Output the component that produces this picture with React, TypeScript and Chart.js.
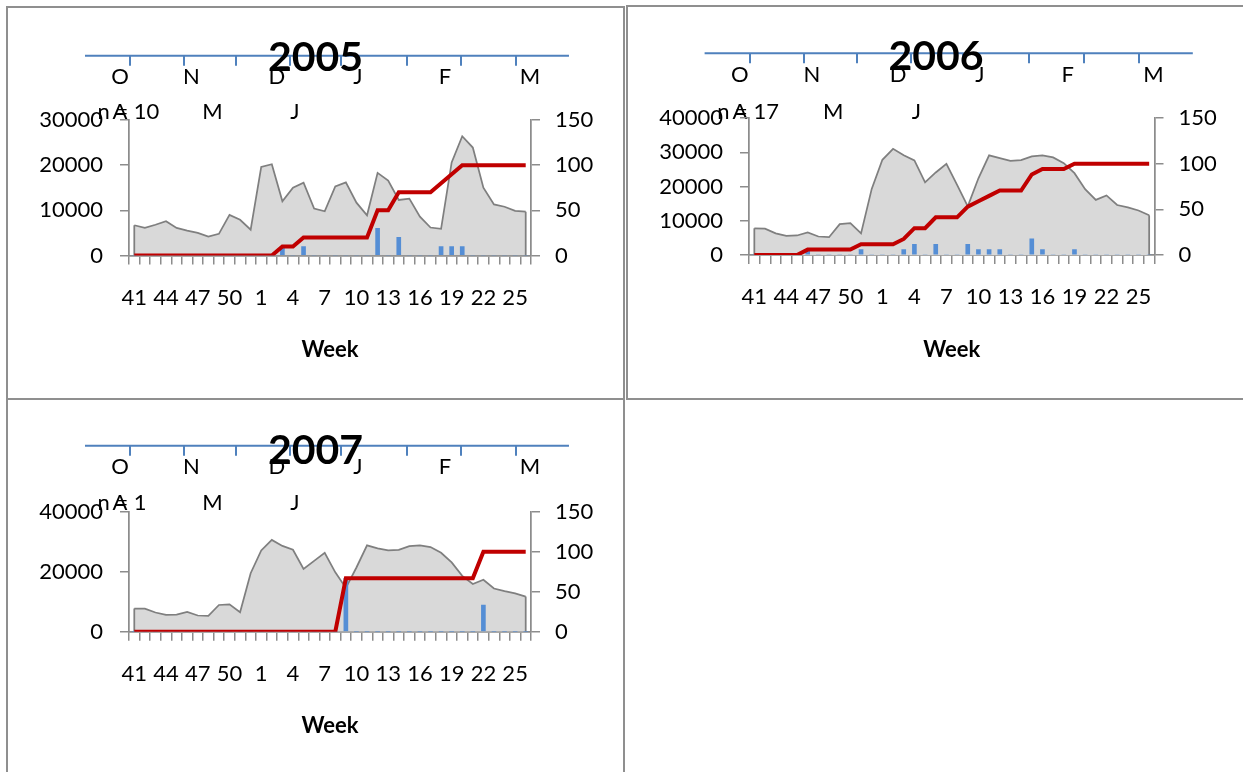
import React, { useEffect, useRef } from 'react';
import { Chart, registerables } from 'chart.js';

Chart.register(...registerables);

// ---------- data ----------
const weeks = ['41', '42', '43', '44', '45', '46', '47', '48', '49', '50', '51', '52',
  '1', '2', '3', '4', '5', '6', '7', '8', '9', '10', '11', '12', '13', '14', '15', '16',
  '17', '18', '19', '20', '21', '22', '23', '24', '25', '26'];

const visits2005 = [6700, 6100, 6800, 7600, 6100, 5500, 5000, 4200, 4800, 9000, 7900, 5700,
  19600, 20200, 12000, 15000, 16100, 10400, 9800, 15300, 16200, 11700, 8900, 18300, 16600,
  12300, 12600, 8600, 6200, 5900, 20600, 26400, 23900, 15000, 11300, 10800, 9900, 9700];
const weekly2005 = [0, 0, 0, 0, 0, 0, 0, 0, 0, 0, 0, 0, 0, 0, 10, 0, 10, 0, 0, 0, 0, 0, 0,
  30, 0, 20, 0, 0, 0, 10, 10, 10, 0, 0, 0, 0, 0, 0];
const cumulative2005 = [0, 0, 0, 0, 0, 0, 0, 0, 0, 0, 0, 0, 0, 0, 10, 10, 20, 20, 20, 20, 20,
  20, 20, 50, 50, 70, 70, 70, 70, 80, 90, 100, 100, 100, 100, 100, 100, 100];

const visits2006 = [7800, 7700, 6300, 5600, 5700, 6600, 5400, 5200, 9000, 9300, 6300, 19300,
  27800, 31000, 29100, 27600, 21200, 24100, 26600, 20500, 14200, 22400, 29100, 28300, 27500,
  27700, 28800, 29100, 28500, 26800, 23900, 19200, 16100, 17400, 14600, 13900, 13000, 11600];
const weekly2006 = [0, 0, 0, 0, 0, 5.9, 0, 0, 0, 0, 5.9, 0, 0, 0, 5.9, 11.8, 0, 11.8, 0, 0,
  11.8, 5.9, 5.9, 5.9, 0, 0, 17.6, 5.9, 0, 0, 5.9, 0, 0, 0, 0, 0, 0, 0];
const cumulative2006 = [0, 0, 0, 0, 0, 5.9, 5.9, 5.9, 5.9, 5.9, 11.8, 11.8, 11.8, 11.8, 17.6,
  29.4, 29.4, 41.2, 41.2, 41.2, 52.9, 58.8, 64.7, 70.6, 70.6, 70.6, 88.2, 94.1, 94.1, 94.1,
  100, 100, 100, 100, 100, 100, 100, 100];

const visits2007 = [7700, 7700, 6400, 5600, 5700, 6600, 5400, 5300, 8900, 9100, 6500, 19500,
  27100, 30600, 28600, 27300, 20900, 23600, 26300, 19800, 14600, 21400, 28800, 27800, 27100,
  27300, 28500, 28800, 28200, 26300, 23100, 18600, 15900, 17300, 14400, 13500, 12800, 11700];
const weekly2007 = [0, 0, 0, 0, 0, 0, 0, 0, 0, 0, 0, 0, 0, 0, 0, 0, 0, 0, 0, 0, 66.7, 0, 0, 0,
  0, 0, 0, 0, 0, 0, 0, 0, 0, 33.3, 0, 0, 0, 0];
const cumulative2007 = [0, 0, 0, 0, 0, 0, 0, 0, 0, 0, 0, 0, 0, 0, 0, 0, 0, 0, 0, 0, 66.7, 66.7,
  66.7, 66.7, 66.7, 66.7, 66.7, 66.7, 66.7, 66.7, 66.7, 66.7, 66.7, 100, 100, 100, 100, 100];

// month axis above each chart (positions in week-index units)
const monthRow1 = ['O', 'N', 'D', 'J', 'F', 'M'];
const monthRow1At = [-1.35, 5.4, 13.47, 21.14, 29.37, 37.4];
const monthRow2 = ['A', 'M', 'J'];
const monthRow2At = [-1.35, 7.4, 15.19];
const monthTickAt = [-0.36, 4.69, 9.66, 14.72, 19.54, 25.78, 30.88, 36.08];
const monthAxisSpan = [-4.66, 41.09];
const nLabelAt = -3.48;

const FONT = 'Lato';
const AXIS_GRAY = '#8c8c8c';

type Layout = {
  W: number; H: number; left: number; right: number; top: number; bottom: number;
  axisY: number; row1Y: number; row2Y: number; titleY: number; weekY: number;
};

type PanelProps = {
  title: string; nText: string; visits: number[]; weekly: number[]; cumulative: number[];
  leftMax: number; leftStep: number; layout: Layout;
  box: { left: number; top: number; width: number; height: number };
};

function Panel(props: PanelProps) {
  const ref = useRef<HTMLCanvasElement>(null);
  useEffect(() => {
    const L = props.layout;
    const monthAxis = {
      id: 'monthAxis',
      beforeDraw(chart: any) {
        const x = chart.scales.x;
        const ctx = chart.ctx;
        ctx.save();
        ctx.strokeStyle = '#4f81bd';
        ctx.lineWidth = 2;
        ctx.beginPath();
        ctx.moveTo(x.getPixelForValue(monthAxisSpan[0]), L.axisY);
        ctx.lineTo(x.getPixelForValue(monthAxisSpan[1]), L.axisY);
        ctx.stroke();
        ctx.beginPath();
        monthTickAt.forEach((p) => {
          const px = Math.round(x.getPixelForValue(p));
          ctx.moveTo(px, L.axisY);
          ctx.lineTo(px, L.axisY + 10);
        });
        ctx.stroke();
        ctx.fillStyle = '#000';
        ctx.font = `22px ${FONT}`;
        ctx.textBaseline = 'middle';
        ctx.textAlign = 'left';
        ctx.fillText(props.nText, x.getPixelForValue(nLabelAt), L.row2Y);
        ctx.textAlign = 'center';
        monthRow1.forEach((m, i) => ctx.fillText(m, x.getPixelForValue(monthRow1At[i]), L.row1Y));
        monthRow2.forEach((m, i) => ctx.fillText(m, x.getPixelForValue(monthRow2At[i]), L.row2Y));
        ctx.restore();
      },
    };
    const areaEdges = {
      id: 'areaEdges',
      afterDatasetDraw(chart: any, args: any) {
        if (args.index !== 0) return;
        const pts = args.meta.data;
        if (!pts.length) return;
        const base = chart.scales.y.getPixelForValue(0);
        const ctx = chart.ctx;
        ctx.save();
        ctx.strokeStyle = '#7f7f7f';
        ctx.lineWidth = 1.75;
        ctx.beginPath();
        ctx.moveTo(pts[0].x, pts[0].y);
        ctx.lineTo(pts[0].x, base);
        const last = pts[pts.length - 1];
        ctx.moveTo(last.x, last.y);
        ctx.lineTo(last.x, base);
        ctx.stroke();
        ctx.restore();
      },
    };
    const tickFont = { family: FONT, size: 22 };
    const chart = new Chart(ref.current as HTMLCanvasElement, {
      type: 'bar',
      data: {
        labels: weeks,
        datasets: [
          {
            type: 'line', label: 'Visits', data: props.visits, yAxisID: 'y',
            borderColor: '#7f7f7f', borderWidth: 1.75, backgroundColor: '#d9d9d9',
            fill: 'origin', pointRadius: 0, tension: 0, order: 2,
          } as any,
          {
            type: 'bar', label: 'Cases %', data: props.weekly, yAxisID: 'y2',
            backgroundColor: '#558ed5', barThickness: 4, order: 1,
          } as any,
          {
            type: 'line', label: 'Cumulative %', data: props.cumulative, yAxisID: 'y2',
            borderColor: '#c00000', borderWidth: 4, pointRadius: 0, fill: false,
            tension: 0, order: 0,
          } as any,
        ],
      },
      options: {
        responsive: false,
        animation: false,
        devicePixelRatio: 1,
        layout: { padding: 0 },
        plugins: {
          legend: { display: false },
          tooltip: { enabled: false },
          title: {
            display: true, text: props.title, color: '#000',
            font: { family: FONT, size: 41, weight: 'bold', lineHeight: 1.2 },
            padding: { top: L.titleY - 24.6, bottom: L.top - L.titleY - 24.6 },
          },
        },
        scales: {
          x: {
            type: 'category',
            offset: true,
            grid: {
              display: true, offset: true, drawOnChartArea: false, drawTicks: true,
              tickLength: 9, color: AXIS_GRAY, lineWidth: 1.5,
            },
            border: { display: true, color: AXIS_GRAY, width: 1.75 },
            ticks: {
              autoSkip: false, maxRotation: 0, minRotation: 0, padding: 20, color: '#000',
              font: tickFont,
              callback: (_v: any, i: number) => (i % 3 === 0 ? weeks[i] : ''),
            },
            title: {
              display: true, text: 'Week', color: '#000',
              font: { family: FONT, size: 22, weight: 'bold', lineHeight: 1.2 },
              padding: { top: 0, bottom: L.H - L.weekY - 13.2 },
            },
            afterFit: (s: any) => { s.height = L.H - L.bottom; },
          },
          y: {
            position: 'left', min: 0, max: props.leftMax,
            grid: { drawOnChartArea: false, tickLength: 9, color: AXIS_GRAY, lineWidth: 1.5 },
            border: { display: true, color: AXIS_GRAY, width: 1.75 },
            ticks: {
              stepSize: props.leftStep, padding: 17, color: '#000', font: tickFont,
              callback: (v: any) => String(v),
            },
            afterFit: (s: any) => { s.width = L.left; },
          },
          y2: {
            position: 'right', min: 0, max: 150,
            grid: { drawOnChartArea: false, tickLength: 9, color: AXIS_GRAY, lineWidth: 1.5 },
            border: { display: true, color: AXIS_GRAY, width: 1.75 },
            ticks: {
              stepSize: 50, padding: 15, color: '#000', font: tickFont,
              callback: (v: any) => String(v),
            },
            afterFit: (s: any) => { s.width = L.W - L.right; },
          },
        },
      } as any,
      plugins: [monthAxis, areaEdges],
    });
    return () => chart.destroy();
  }, []);
  const b = props.box;
  return (
    <div
      style={{
        position: 'absolute', left: b.left, top: b.top, width: b.width, height: b.height,
        border: '2px solid #8f8f8f', boxSizing: 'border-box', background: '#fff',
      }}
    >
      <canvas
        ref={ref}
        width={props.layout.W}
        height={props.layout.H}
        style={{ display: 'block', width: props.layout.W, height: props.layout.H }}
      />
    </div>
  );
}

export default function App() {
  return (
    <div
      style={{
        position: 'fixed', left: 0, top: 0, width: 1243, height: 772, overflow: 'hidden',
        background: '#fff',
      }}
    >
      <Panel
        title="2005" nText="n = 10" visits={visits2005} weekly={weekly2005}
        cumulative={cumulative2005} leftMax={30000} leftStep={10000}
        box={{ left: 6, top: 6, width: 619, height: 394 }}
        layout={{ W: 615, H: 390, left: 121, right: 523, top: 112, bottom: 247.5,
          axisY: 47.7, row1Y: 68.7, row2Y: 103.7, titleY: 50, weekY: 342 }}
      />
      <Panel
        title="2006" nText="n = 17" visits={visits2006} weekly={weekly2006}
        cumulative={cumulative2006} leftMax={40000} leftStep={10000}
        box={{ left: 626, top: 5, width: 620, height: 395 }}
        layout={{ W: 616, H: 391, left: 121, right: 526.5, top: 111, bottom: 248,
          axisY: 46.3, row1Y: 68, row2Y: 104.5, titleY: 49.7, weekY: 343 }}
      />
      <Panel
        title="2007" nText="n = 1" visits={visits2007} weekly={weekly2007}
        cumulative={cumulative2007} leftMax={40000} leftStep={20000}
        box={{ left: 6, top: 398, width: 619, height: 376 }}
        layout={{ W: 615, H: 372, left: 121, right: 523, top: 111.7, bottom: 231.7,
          axisY: 45.7, row1Y: 66.7, row2Y: 103, titleY: 51, weekY: 326 }}
      />
    </div>
  );
}
